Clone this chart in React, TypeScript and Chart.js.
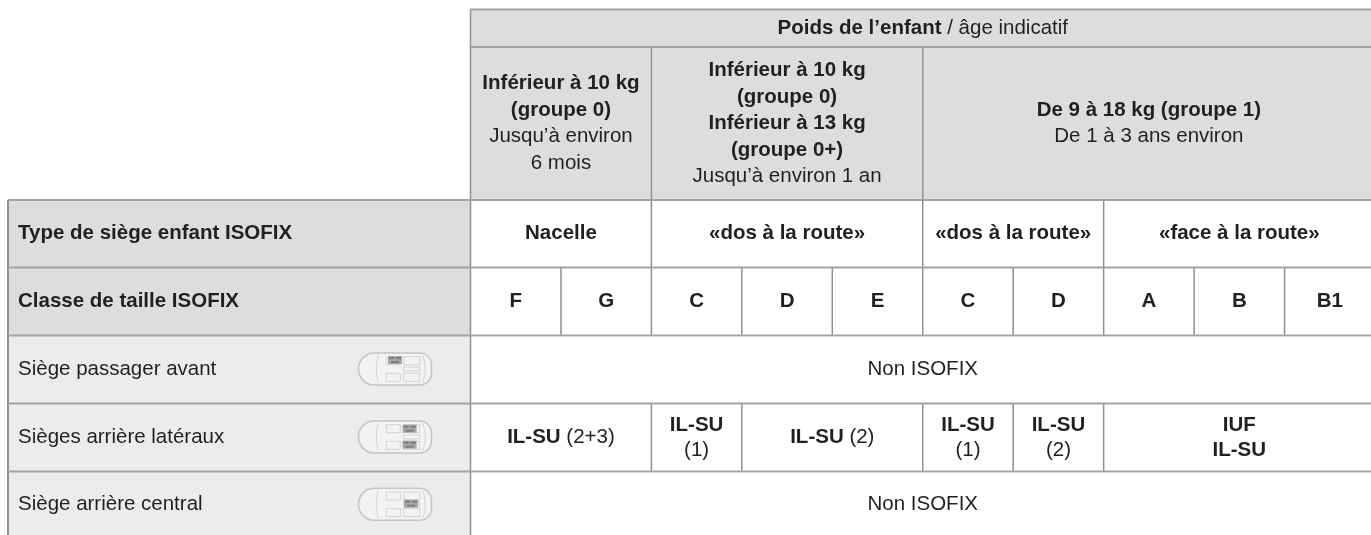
import React, { useEffect, useRef } from "react";
import { Chart, registerables } from "chart.js";

Chart.register(...registerables);

// ---- table content ----
const weightHeader = "**Poids de l’enfant** / âge indicatif";
const weightGroups = [
  "**Inférieur à 10 kg**\n**(groupe 0)**\nJusqu’à environ\n6 mois",
  "**Inférieur à 10 kg**\n**(groupe 0)**\n**Inférieur à 13 kg**\n**(groupe 0+)**\nJusqu’à environ 1 an",
  "**De 9 à 18 kg (groupe 1)**\nDe 1 à 3 ans environ",
];
const weightSpans = [2, 3, 5];
const seatTypes = ["**Nacelle**", "**«dos à la route»**", "**«dos à la route»**", "**«face à la route»**"];
const seatTypeSpans = [2, 3, 2, 3];
const sizeClasses = ["F", "G", "C", "D", "E", "C", "D", "A", "B", "B1"];
const rowTitles = [
  "**Type de siège enfant ISOFIX**",
  "**Classe de taille ISOFIX**",
  "Siège passager avant",
  "Sièges arrière latéraux",
  "Siège arrière central",
];
const nonIsofix = "Non ISOFIX";
const rearSideValues = [
  "**IL-SU** (2+3)",
  "**IL-SU**\n(1)",
  "**IL-SU** (2)",
  "**IL-SU**\n(1)",
  "**IL-SU**\n(2)",
  "**IUF**\n**IL-SU**",
];
const rearSideSpans = [2, 1, 2, 1, 1, 3];
const highlightedSeats = [[[0.5, 0.22]], [[0.7, 0.24], [0.7, 0.74]], [[0.72, 0.48]]];

// ---- layout of the table, in scale units ----
const W = 1371;
const H = 535;
const tableLeft = 8;
const firstColEnd = 470.5;
const colWidth = 90.45;
const rowEdges = [9.5, 47, 200, 267.5, 335.5, 403.5, 471.5, 538];
const colEdge = (i: number) => firstColEnd + i * colWidth;

const HEAD_FILL = "#dcddde";
const SOFT_FILL = "#ececec";
const H_LINE = "#a2a3a4";
const V_LINE = "#909192";
const INK = "#231f20";
const FONT = '"Liberation Sans", Arial, sans-serif';
const FONT_SIZE = 20.5;

type Cell = { text: string; x0: number; x1: number; y0: number; y1: number; lh?: number; left?: boolean };

function spanCells(labels: string[], spans: number[], row: number, lh?: number): Cell[] {
  let c = 0;
  return labels.map((text, i) => {
    const cell = { text, x0: colEdge(c), x1: colEdge(c + spans[i]), y0: rowEdges[row], y1: rowEdges[row + 1], lh };
    c += spans[i];
    return cell;
  });
}

const textCells: Cell[] = [
  ...spanCells([weightHeader], [10], 0),
  ...spanCells(weightGroups, weightSpans, 1),
  ...spanCells(seatTypes, seatTypeSpans, 2),
  ...spanCells(sizeClasses.map((s) => `**${s}**`), sizeClasses.map(() => 1), 3),
  ...spanCells([nonIsofix], [10], 4),
  ...spanCells(rearSideValues, rearSideSpans, 5, 25),
  ...spanCells([nonIsofix], [10], 6),
  ...rowTitles.map((text, i) => ({
    text,
    x0: 18,
    x1: firstColEnd,
    y0: rowEdges[i + 2],
    y1: rowEdges[i + 3],
    left: true,
  })),
];

function rect(x0: number, y0: number, x1: number, y1: number, fill: string) {
  return {
    type: "line" as const,
    data: [
      { x: x0, y: y0 },
      { x: x1, y: y0 },
      { x: x1, y: y1 },
      { x: x0, y: y1 },
      { x: x0, y: y0 },
    ],
    fill: "shape",
    backgroundColor: fill,
    borderWidth: 0,
    borderColor: "transparent",
    pointRadius: 0,
    tension: 0,
    order: 10,
  };
}

function seg(x0: number, y0: number, x1: number, y1: number, color: string, width: number) {
  return {
    type: "line" as const,
    data: [
      { x: x0, y: y0 },
      { x: x1, y: y1 },
    ],
    fill: false,
    borderColor: color,
    borderWidth: width,
    pointRadius: 0,
    tension: 0,
    order: 1,
  };
}

function vLines(spans: number[], row: number) {
  const out: ReturnType<typeof seg>[] = [];
  let c = 0;
  spans.forEach((s) => {
    out.push(seg(colEdge(c), rowEdges[row], colEdge(c), rowEdges[row + 1], V_LINE, 1.5));
    c += s;
  });
  return out;
}

const datasets: any[] = [
  rect(firstColEnd, rowEdges[0], W, rowEdges[2], HEAD_FILL),
  rect(tableLeft, rowEdges[2], firstColEnd, rowEdges[4], HEAD_FILL),
  rect(tableLeft, rowEdges[4], firstColEnd, rowEdges[7], SOFT_FILL),
  ...[0, 1, 2, 3, 4, 5, 6].map((r) =>
    seg(r < 2 ? firstColEnd : tableLeft, rowEdges[r], W, rowEdges[r], H_LINE, 2)
  ),
  seg(tableLeft, rowEdges[2], tableLeft, H, V_LINE, 2),
  ...vLines([10], 0),
  ...vLines(weightSpans, 1),
  ...vLines(seatTypeSpans, 2),
  ...vLines(sizeClasses.map(() => 1), 3),
  ...vLines([10], 4),
  ...vLines(rearSideSpans, 5),
  ...vLines([10], 6),
];

function parseLine(line: string) {
  return line
    .split("**")
    .map((t, i) => ({ t, bold: i % 2 === 1 }))
    .filter((s) => s.t.length > 0);
}

const tablePlugin = {
  id: "tableText",
  afterDatasetsDraw(chart: any) {
    const { ctx, scales } = chart;
    const sx = scales.x;
    const sy = scales.y;
    ctx.save();
    ctx.textBaseline = "middle";
    ctx.textAlign = "left";
    ctx.fillStyle = INK;
    textCells.forEach((cell) => {
      const lines = cell.text.split("\n");
      const lh = cell.lh ?? 26.6;
      const cy = (sy.getPixelForValue(cell.y0) + sy.getPixelForValue(cell.y1)) / 2;
      lines.forEach((line, li) => {
        const y = cy + (li - (lines.length - 1) / 2) * lh;
        const parts = parseLine(line);
        const widths = parts.map((p) => {
          ctx.font = `${p.bold ? "bold " : ""}${FONT_SIZE}px ${FONT}`;
          return ctx.measureText(p.t).width;
        });
        const total = widths.reduce((a, b) => a + b, 0);
        const x0 = sx.getPixelForValue(cell.x0);
        const x1 = sx.getPixelForValue(cell.x1);
        let x = cell.left ? x0 : (x0 + x1 - total) / 2;
        parts.forEach((p, i) => {
          ctx.font = `${p.bold ? "bold " : ""}${FONT_SIZE}px ${FONT}`;
          ctx.fillText(p.t, x, y);
          x += widths[i];
        });
      });
    });

    // small car icons beside the seat rows
    highlightedSeats.forEach((seats, i) => {
      const cy = (sy.getPixelForValue(rowEdges[i + 4]) + sy.getPixelForValue(rowEdges[i + 5])) / 2 - 0.5;
      const left = sx.getPixelForValue(358.5);
      const w = 73;
      const h = 32;
      const top = cy - h / 2;
      ctx.save();
      ctx.filter = "blur(0.6px)";
      ctx.fillStyle = "#f3f3f3";
      ctx.strokeStyle = "#c4c5c6";
      ctx.lineWidth = 1.6;
      ctx.beginPath();
      ctx.roundRect(left, top, w, h, [16, 12, 12, 16]);
      ctx.fill();
      ctx.stroke();
      ctx.lineWidth = 1;
      ctx.strokeStyle = "#d2d3d4";
      ctx.beginPath();
      ctx.moveTo(left + w * 0.27, top + 2);
      ctx.quadraticCurveTo(left + w * 0.22, cy, left + w * 0.27, top + h - 2);
      ctx.moveTo(left + w * 0.88, top + 2);
      ctx.quadraticCurveTo(left + w * 0.95, cy, left + w * 0.88, top + h - 2);
      ctx.stroke();
      [0.24, 0.76].forEach((f) => {
        ctx.strokeRect(left + w * 0.38, top + h * f - 4, 14, 8);
        ctx.strokeRect(left + w * 0.62, top + h * f - 4, 16, 8);
      });
      ctx.strokeRect(left + w * 0.62, top + h * 0.5 - 2, 16, 4);
      seats.forEach(([fx, fy]) => {
        const sxx = left + w * fx - 7;
        const syy = top + h * fy - 4;
        ctx.fillStyle = "#a6a7a8";
        ctx.fillRect(sxx, syy, 14, 8);
        ctx.fillStyle = "#7c7d7f";
        ctx.fillRect(sxx + 1, syy + 1, 5, 2);
        ctx.fillRect(sxx + 8, syy + 1, 5, 2);
        ctx.fillRect(sxx + 3, syy + 5, 8, 2);
      });
      ctx.restore();
    });
    ctx.restore();
  },
};

export default function App() {
  const ref = useRef<HTMLCanvasElement>(null);
  useEffect(() => {
    const chart = new Chart(ref.current!, {
      type: "line",
      data: { datasets },
      plugins: [tablePlugin],
      options: {
        animation: false,
        responsive: false,
        parsing: false,
        normalized: true,
        spanGaps: true,
        layout: { padding: 0 },
        plugins: { legend: { display: false }, tooltip: { enabled: false }, title: { display: false } },
        scales: {
          x: { type: "linear", min: 0, max: W, display: false },
          y: { type: "linear", min: 0, max: H, reverse: true, display: false },
        },
      } as any,
    });
    return () => chart.destroy();
  }, []);
  return (
    <div style={{ position: "absolute", left: 0, top: 0, width: W, height: H, background: "#fff", overflow: "hidden" }}>
      <canvas ref={ref} width={W} height={H} style={{ display: "block", filter: "blur(0.35px)" }} />
    </div>
  );
}
